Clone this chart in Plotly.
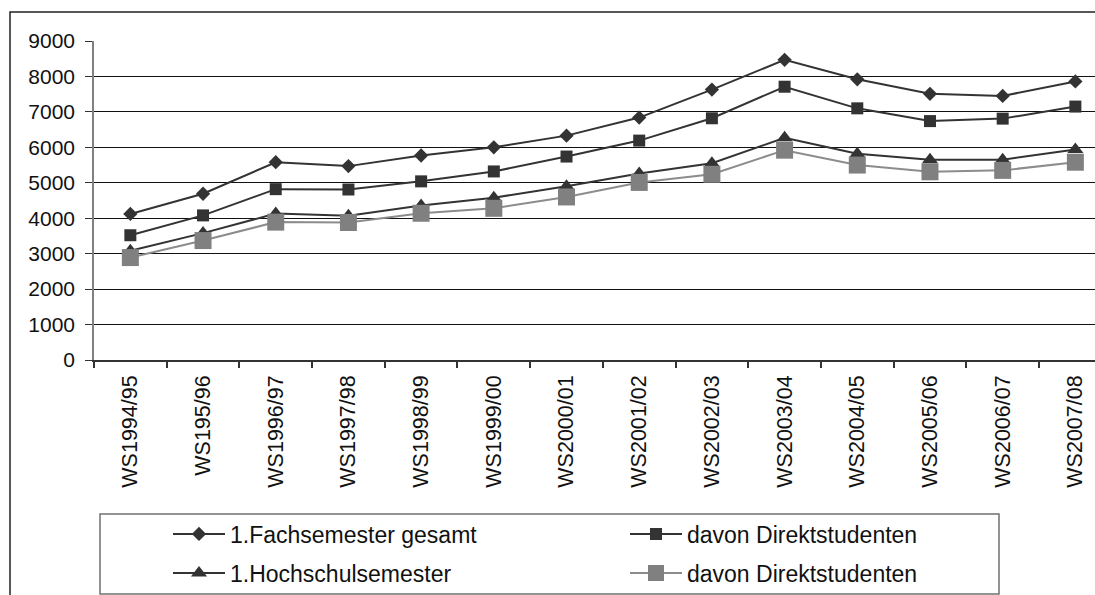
import plotly.graph_objects as go

categories = ["WS1994/95", "WS195/96", "WS1996/97", "WS1997/98", "WS1998/99", "WS1999/00",
              "WS2000/01", "WS2001/02", "WS2002/03", "WS2003/04", "WS2004/05", "WS2005/06",
              "WS2006/07", "WS2007/08"]

fach_gesamt = [4120, 4690, 5580, 5470, 5770, 6000, 6330, 6840, 7630, 8470, 7920, 7510, 7450, 7860]
fach_direkt = [3520, 4080, 4820, 4810, 5040, 5320, 5740, 6190, 6820, 7710, 7100, 6740, 6810, 7150]
hoch_gesamt = [3080, 3580, 4130, 4070, 4360, 4580, 4900, 5260, 5550, 6270, 5820, 5650, 5650, 5940]
hoch_direkt = [2890, 3370, 3890, 3880, 4140, 4280, 4600, 5010, 5240, 5920, 5500, 5310, 5350, 5580]

names = ["1.Fachsemester gesamt", "davon Direktstudenten", "1.Hochschulsemester", "davon Direktstudenten"]
y_ticks = [0, 1000, 2000, 3000, 4000, 5000, 6000, 7000, 8000, 9000]
grid_ticks = [1000, 2000, 3000, 4000, 5000, 6000, 7000, 8000]

DARK = "#333333"
GRAY = "#808080"
FONT = "Liberation Sans, Arial, Helvetica, sans-serif"

W, H = 1095, 595
L, R, T, B = 94, 0, 41, 235

fig = go.Figure()
fig.add_trace(go.Scatter(x=categories, y=fach_gesamt, name=names[0], mode="lines+markers",
                         line=dict(color=DARK, width=2),
                         marker=dict(symbol="diamond", size=11, color=DARK), legend="legend"))
fig.add_trace(go.Scatter(x=categories, y=fach_direkt, name=names[1], mode="lines+markers",
                         line=dict(color=DARK, width=2),
                         marker=dict(symbol="square", size=12, color=DARK), legend="legend"))
fig.add_trace(go.Scatter(x=categories, y=hoch_gesamt, name=names[2], mode="lines+markers",
                         line=dict(color=DARK, width=2),
                         marker=dict(symbol="triangle-up", size=14, color=DARK), legend="legend2"))
fig.add_trace(go.Scatter(x=categories, y=hoch_direkt, name=names[3], mode="lines+markers",
                         line=dict(color="#8c8c8c", width=2),
                         marker=dict(symbol="square", size=17, color=GRAY), legend="legend2"))

pw = W - L - R
ph = H - T - B

def px_x(x):
    return (x - L) / pw

def px_y(y):
    return (H - B - y) / ph

shapes = [
    # outer chart border (top and left visible, rest beyond the page)
    dict(type="rect", xref="paper", yref="paper",
         x0=px_x(10), x1=px_x(1120), y0=px_y(620), y1=px_y(12),
         line=dict(color="#222222", width=1.5), fillcolor="rgba(0,0,0,0)", layer="below"),
    # legend box
    dict(type="rect", xref="paper", yref="paper",
         x0=px_x(100), x1=px_x(999), y0=px_y(594), y1=px_y(514),
         line=dict(color="#707070", width=1.5), fillcolor="rgba(0,0,0,0)"),
]

leg_common = dict(orientation="h", xref="container", yref="container",
                  xanchor="left", yanchor="middle",
                  font=dict(family=FONT, size=23, color="#111111"),
                  bgcolor="rgba(0,0,0,0)", borderwidth=0,
                  itemwidth=52,
                  entrywidth=390, entrywidthmode="pixels", itemsizing="trace")

fig.update_layout(
    width=W, height=H,
    margin=dict(l=L, r=R, t=T, b=B, pad=0),
    paper_bgcolor="white", plot_bgcolor="white",
    font=dict(family=FONT, size=21, color="#111111"),
    showlegend=True,
    legend=dict(x=168 / W, y=1 - 534 / H, **leg_common),
    legend2=dict(x=168 / W, y=1 - 573 / H, **leg_common),
    shapes=shapes,
    xaxis=dict(type="category", range=[-0.5, 13.27], showgrid=False, zeroline=False,
               showline=True, linecolor=DARK, linewidth=1.5,
               ticks="outside", ticklen=6, tickcolor=DARK, tickwidth=1.5,
               tickson="boundaries", tickangle=-90, ticklabelstandoff=5,
               tickfont=dict(family=FONT, size=21.5, color="#111111")),
    yaxis=dict(range=[0, 9000], tickvals=y_ticks, showgrid=False, zeroline=False,
               showline=True, linecolor=GRAY, linewidth=1.5,
               ticks="outside", ticklen=7, tickcolor=DARK, tickwidth=1.2,
               ticklabelstandoff=6,
               tickfont=dict(family=FONT, size=21, color="#111111")),
    yaxis2=dict(range=[0, 9000], overlaying="y", tickvals=grid_ticks, showgrid=True,
                gridcolor="#111111", gridwidth=1.3, showticklabels=False, ticks="",
                zeroline=False, showline=False),
)

# invisible helper so that the grid axis is drawn
fig.add_trace(go.Scatter(x=[categories[0]], y=[0], yaxis="y2", mode="markers",
                         marker=dict(opacity=0), showlegend=False, hoverinfo="skip"))

fig.write_html("out.html", config={"displayModeBar": False},
               post_script="document.body.style.margin='0';document.body.style.overflow='hidden';")
